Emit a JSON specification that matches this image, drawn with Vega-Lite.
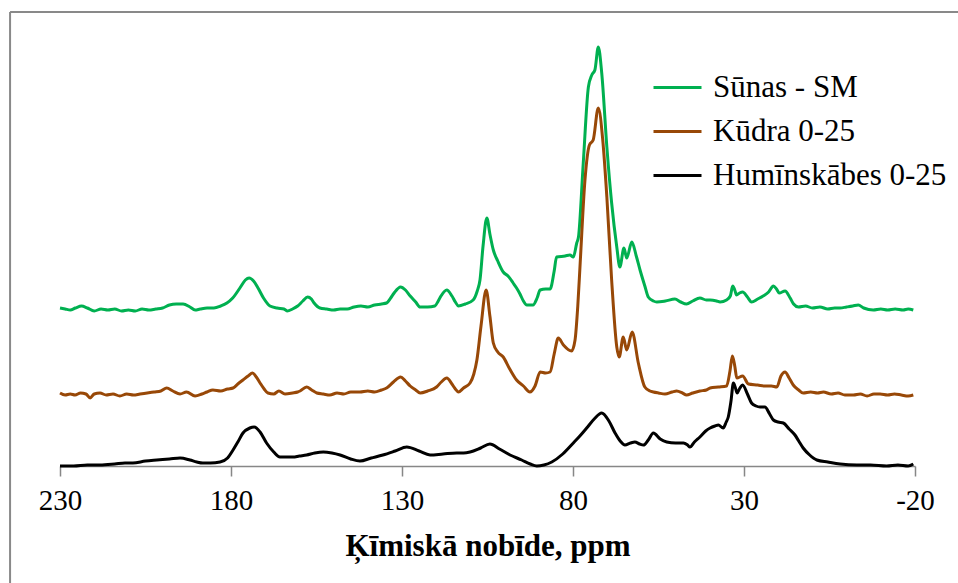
{
  "$schema": "https://vega.github.io/schema/vega-lite/v6.json",
  "width": 855,
  "height": 440,
  "autosize": {"type": "none"},
  "padding": {"left": 60, "top": 26, "right": 43, "bottom": 117},
  "background": "white",
  "config": {
    "view": {"stroke": null},
    "font": "Liberation Serif"
  },
  "layer": [
    {
      "data": {"values": [
        {"s":"Sūnas - SM","ppm":230,"v":158},{"s":"Sūnas - SM","ppm":228.5,"v":157},{"s":"Sūnas - SM","ppm":227,"v":156},{"s":"Sūnas - SM","ppm":225.5,"v":158},{"s":"Sūnas - SM","ppm":223.7,"v":160},{"s":"Sūnas - SM","ppm":222,"v":158},{"s":"Sūnas - SM","ppm":220,"v":155},{"s":"Sūnas - SM","ppm":218,"v":157},{"s":"Sūnas - SM","ppm":216,"v":156},{"s":"Sūnas - SM","ppm":214,"v":157},{"s":"Sūnas - SM","ppm":212,"v":155},{"s":"Sūnas - SM","ppm":210,"v":156},{"s":"Sūnas - SM","ppm":208,"v":155},{"s":"Sūnas - SM","ppm":206,"v":157},{"s":"Sūnas - SM","ppm":204,"v":156},{"s":"Sūnas - SM","ppm":202,"v":157},{"s":"Sūnas - SM","ppm":200,"v":158},{"s":"Sūnas - SM","ppm":198,"v":161},{"s":"Sūnas - SM","ppm":196,"v":162},{"s":"Sūnas - SM","ppm":194,"v":162},{"s":"Sūnas - SM","ppm":192,"v":159},{"s":"Sūnas - SM","ppm":190.5,"v":156},{"s":"Sūnas - SM","ppm":189,"v":157},{"s":"Sūnas - SM","ppm":187,"v":158},{"s":"Sūnas - SM","ppm":185,"v":158},{"s":"Sūnas - SM","ppm":183,"v":160},{"s":"Sūnas - SM","ppm":181.2,"v":163},{"s":"Sūnas - SM","ppm":179.5,"v":168},{"s":"Sūnas - SM","ppm":177.4,"v":178},{"s":"Sūnas - SM","ppm":175.8,"v":186},{"s":"Sūnas - SM","ppm":174.7,"v":188},{"s":"Sūnas - SM","ppm":173.4,"v":185},{"s":"Sūnas - SM","ppm":172.1,"v":178},{"s":"Sūnas - SM","ppm":170.5,"v":168},{"s":"Sūnas - SM","ppm":168.6,"v":160},{"s":"Sūnas - SM","ppm":166.5,"v":158},{"s":"Sūnas - SM","ppm":164.5,"v":157},{"s":"Sūnas - SM","ppm":163.6,"v":155},{"s":"Sūnas - SM","ppm":162,"v":157},{"s":"Sūnas - SM","ppm":160.5,"v":160},{"s":"Sūnas - SM","ppm":159,"v":165},{"s":"Sūnas - SM","ppm":157.6,"v":169},{"s":"Sūnas - SM","ppm":156.5,"v":167},{"s":"Sūnas - SM","ppm":155.7,"v":163},{"s":"Sūnas - SM","ppm":154,"v":158},{"s":"Sūnas - SM","ppm":152,"v":157},{"s":"Sūnas - SM","ppm":150,"v":156},{"s":"Sūnas - SM","ppm":148.1,"v":157},{"s":"Sūnas - SM","ppm":146,"v":157},{"s":"Sūnas - SM","ppm":144,"v":159},{"s":"Sūnas - SM","ppm":142,"v":160},{"s":"Sūnas - SM","ppm":140,"v":159},{"s":"Sūnas - SM","ppm":138,"v":161},{"s":"Sūnas - SM","ppm":136,"v":162},{"s":"Sūnas - SM","ppm":134.5,"v":163},{"s":"Sūnas - SM","ppm":133.3,"v":168},{"s":"Sūnas - SM","ppm":132.3,"v":173},{"s":"Sūnas - SM","ppm":130.4,"v":179},{"s":"Sūnas - SM","ppm":129,"v":176},{"s":"Sūnas - SM","ppm":127.6,"v":170},{"s":"Sūnas - SM","ppm":126,"v":164},{"s":"Sūnas - SM","ppm":124.7,"v":159},{"s":"Sūnas - SM","ppm":122.5,"v":159},{"s":"Sūnas - SM","ppm":120.4,"v":160},{"s":"Sūnas - SM","ppm":119.4,"v":165},{"s":"Sūnas - SM","ppm":118.6,"v":170},{"s":"Sūnas - SM","ppm":116.9,"v":176},{"s":"Sūnas - SM","ppm":115.4,"v":170},{"s":"Sūnas - SM","ppm":114.4,"v":164},{"s":"Sūnas - SM","ppm":113.5,"v":160},{"s":"Sūnas - SM","ppm":111.5,"v":162},{"s":"Sūnas - SM","ppm":109.2,"v":166},{"s":"Sūnas - SM","ppm":108,"v":175},{"s":"Sūnas - SM","ppm":107.2,"v":186},{"s":"Sūnas - SM","ppm":106.3,"v":220},{"s":"Sūnas - SM","ppm":105.2,"v":248},{"s":"Sūnas - SM","ppm":104.3,"v":232},{"s":"Sūnas - SM","ppm":103.3,"v":216},{"s":"Sūnas - SM","ppm":102,"v":205},{"s":"Sūnas - SM","ppm":100.4,"v":194},{"s":"Sūnas - SM","ppm":99,"v":190},{"s":"Sūnas - SM","ppm":97.5,"v":183},{"s":"Sūnas - SM","ppm":96.5,"v":178},{"s":"Sūnas - SM","ppm":95.5,"v":172},{"s":"Sūnas - SM","ppm":94.5,"v":165},{"s":"Sūnas - SM","ppm":93.5,"v":161},{"s":"Sūnas - SM","ppm":91.7,"v":161},{"s":"Sūnas - SM","ppm":90.5,"v":168},{"s":"Sūnas - SM","ppm":89.6,"v":176},{"s":"Sūnas - SM","ppm":88,"v":177},{"s":"Sūnas - SM","ppm":86.7,"v":177},{"s":"Sūnas - SM","ppm":85.5,"v":195},{"s":"Sūnas - SM","ppm":84.8,"v":209},{"s":"Sūnas - SM","ppm":82.3,"v":210},{"s":"Sūnas - SM","ppm":80.9,"v":211},{"s":"Sūnas - SM","ppm":79.9,"v":209},{"s":"Sūnas - SM","ppm":78.9,"v":223},{"s":"Sūnas - SM","ppm":78.4,"v":229},{"s":"Sūnas - SM","ppm":77,"v":303},{"s":"Sūnas - SM","ppm":75.5,"v":379},{"s":"Sūnas - SM","ppm":74.5,"v":391},{"s":"Sūnas - SM","ppm":73.6,"v":396},{"s":"Sūnas - SM","ppm":72.6,"v":419},{"s":"Sūnas - SM","ppm":71.6,"v":393},{"s":"Sūnas - SM","ppm":70.1,"v":319},{"s":"Sūnas - SM","ppm":68.7,"v":263},{"s":"Sūnas - SM","ppm":67.2,"v":219},{"s":"Sūnas - SM","ppm":66.3,"v":199},{"s":"Sūnas - SM","ppm":65.1,"v":218},{"s":"Sūnas - SM","ppm":64.3,"v":208},{"s":"Sūnas - SM","ppm":62.8,"v":224},{"s":"Sūnas - SM","ppm":61.5,"v":210},{"s":"Sūnas - SM","ppm":60.4,"v":196},{"s":"Sūnas - SM","ppm":59,"v":180},{"s":"Sūnas - SM","ppm":58,"v":169},{"s":"Sūnas - SM","ppm":56.5,"v":165},{"s":"Sūnas - SM","ppm":55.5,"v":164},{"s":"Sūnas - SM","ppm":53,"v":165},{"s":"Sūnas - SM","ppm":50.2,"v":167},{"s":"Sūnas - SM","ppm":48.5,"v":164},{"s":"Sūnas - SM","ppm":46.8,"v":162},{"s":"Sūnas - SM","ppm":45,"v":165},{"s":"Sūnas - SM","ppm":42.9,"v":168},{"s":"Sūnas - SM","ppm":41,"v":166},{"s":"Sūnas - SM","ppm":39.9,"v":166},{"s":"Sūnas - SM","ppm":38,"v":165},{"s":"Sūnas - SM","ppm":37,"v":164},{"s":"Sūnas - SM","ppm":35.1,"v":166},{"s":"Sūnas - SM","ppm":34,"v":170},{"s":"Sūnas - SM","ppm":33.3,"v":180},{"s":"Sūnas - SM","ppm":32.7,"v":176},{"s":"Sūnas - SM","ppm":32.2,"v":171},{"s":"Sūnas - SM","ppm":31.3,"v":173},{"s":"Sūnas - SM","ppm":30.4,"v":174},{"s":"Sūnas - SM","ppm":29,"v":169},{"s":"Sūnas - SM","ppm":27.8,"v":164},{"s":"Sūnas - SM","ppm":26,"v":167},{"s":"Sūnas - SM","ppm":24.4,"v":170},{"s":"Sūnas - SM","ppm":22.8,"v":174},{"s":"Sūnas - SM","ppm":21.4,"v":180},{"s":"Sūnas - SM","ppm":20.5,"v":177},{"s":"Sūnas - SM","ppm":19.7,"v":173},{"s":"Sūnas - SM","ppm":18,"v":175},{"s":"Sūnas - SM","ppm":16.5,"v":168},{"s":"Sūnas - SM","ppm":15.5,"v":162},{"s":"Sūnas - SM","ppm":14.1,"v":159},{"s":"Sūnas - SM","ppm":12,"v":160},{"s":"Sūnas - SM","ppm":10,"v":158},{"s":"Sūnas - SM","ppm":7.8,"v":159},{"s":"Sūnas - SM","ppm":5.5,"v":157},{"s":"Sūnas - SM","ppm":3.5,"v":158},{"s":"Sūnas - SM","ppm":1.9,"v":158},{"s":"Sūnas - SM","ppm":0,"v":159},{"s":"Sūnas - SM","ppm":-1.8,"v":160},{"s":"Sūnas - SM","ppm":-3.4,"v":161},{"s":"Sūnas - SM","ppm":-5,"v":158},{"s":"Sūnas - SM","ppm":-7.8,"v":156},{"s":"Sūnas - SM","ppm":-10,"v":157},{"s":"Sūnas - SM","ppm":-12,"v":156},{"s":"Sūnas - SM","ppm":-14.2,"v":157},{"s":"Sūnas - SM","ppm":-16.5,"v":156},{"s":"Sūnas - SM","ppm":-18,"v":157},{"s":"Sūnas - SM","ppm":-19.5,"v":156},
        {"s":"Kūdra 0-25","ppm":230,"v":73},{"s":"Kūdra 0-25","ppm":228.5,"v":71},{"s":"Kūdra 0-25","ppm":227,"v":72},{"s":"Kūdra 0-25","ppm":225.6,"v":71},{"s":"Kūdra 0-25","ppm":224,"v":73},{"s":"Kūdra 0-25","ppm":222.4,"v":72},{"s":"Kūdra 0-25","ppm":221.2,"v":68},{"s":"Kūdra 0-25","ppm":220,"v":72},{"s":"Kūdra 0-25","ppm":218.3,"v":73},{"s":"Kūdra 0-25","ppm":216.5,"v":71},{"s":"Kūdra 0-25","ppm":214.5,"v":72},{"s":"Kūdra 0-25","ppm":212.5,"v":70},{"s":"Kūdra 0-25","ppm":210.5,"v":72},{"s":"Kūdra 0-25","ppm":208.5,"v":71},{"s":"Kūdra 0-25","ppm":206.6,"v":72},{"s":"Kūdra 0-25","ppm":204.5,"v":73},{"s":"Kūdra 0-25","ppm":202.5,"v":74},{"s":"Kūdra 0-25","ppm":200.5,"v":75},{"s":"Kūdra 0-25","ppm":198.8,"v":78},{"s":"Kūdra 0-25","ppm":197,"v":75},{"s":"Kūdra 0-25","ppm":194.9,"v":72},{"s":"Kūdra 0-25","ppm":193,"v":74},{"s":"Kūdra 0-25","ppm":190.5,"v":70},{"s":"Kūdra 0-25","ppm":188.5,"v":72},{"s":"Kūdra 0-25","ppm":187,"v":74},{"s":"Kūdra 0-25","ppm":185.3,"v":76},{"s":"Kūdra 0-25","ppm":183,"v":75},{"s":"Kūdra 0-25","ppm":181,"v":77},{"s":"Kūdra 0-25","ppm":179.4,"v":78},{"s":"Kūdra 0-25","ppm":178,"v":82},{"s":"Kūdra 0-25","ppm":176.5,"v":86},{"s":"Kūdra 0-25","ppm":175,"v":90},{"s":"Kūdra 0-25","ppm":173.7,"v":93},{"s":"Kūdra 0-25","ppm":172.6,"v":89},{"s":"Kūdra 0-25","ppm":171.5,"v":83},{"s":"Kūdra 0-25","ppm":170.3,"v":77},{"s":"Kūdra 0-25","ppm":169.2,"v":73},{"s":"Kūdra 0-25","ppm":167.5,"v":72},{"s":"Kūdra 0-25","ppm":166,"v":75},{"s":"Kūdra 0-25","ppm":164.2,"v":72},{"s":"Kūdra 0-25","ppm":162,"v":73},{"s":"Kūdra 0-25","ppm":160.5,"v":74},{"s":"Kūdra 0-25","ppm":159.8,"v":75},{"s":"Kūdra 0-25","ppm":157.9,"v":79},{"s":"Kūdra 0-25","ppm":156.4,"v":76},{"s":"Kūdra 0-25","ppm":154.9,"v":73},{"s":"Kūdra 0-25","ppm":153,"v":72},{"s":"Kūdra 0-25","ppm":151.1,"v":71},{"s":"Kūdra 0-25","ppm":149,"v":73},{"s":"Kūdra 0-25","ppm":147,"v":72},{"s":"Kūdra 0-25","ppm":145,"v":74},{"s":"Kūdra 0-25","ppm":142.3,"v":74},{"s":"Kūdra 0-25","ppm":140,"v":75},{"s":"Kūdra 0-25","ppm":138,"v":74},{"s":"Kūdra 0-25","ppm":136,"v":76},{"s":"Kūdra 0-25","ppm":134.5,"v":78},{"s":"Kūdra 0-25","ppm":132.5,"v":84},{"s":"Kūdra 0-25","ppm":130.4,"v":89},{"s":"Kūdra 0-25","ppm":129,"v":85},{"s":"Kūdra 0-25","ppm":127.6,"v":80},{"s":"Kūdra 0-25","ppm":126,"v":76},{"s":"Kūdra 0-25","ppm":124.7,"v":73},{"s":"Kūdra 0-25","ppm":122.5,"v":75},{"s":"Kūdra 0-25","ppm":119.9,"v":79},{"s":"Kūdra 0-25","ppm":118.5,"v":84},{"s":"Kūdra 0-25","ppm":116.9,"v":88},{"s":"Kūdra 0-25","ppm":115.4,"v":82},{"s":"Kūdra 0-25","ppm":114.4,"v":77},{"s":"Kūdra 0-25","ppm":113.5,"v":74},{"s":"Kūdra 0-25","ppm":112,"v":78},{"s":"Kūdra 0-25","ppm":110.1,"v":83},{"s":"Kūdra 0-25","ppm":109,"v":92},{"s":"Kūdra 0-25","ppm":108.1,"v":106},{"s":"Kūdra 0-25","ppm":106.9,"v":140},{"s":"Kūdra 0-25","ppm":105.4,"v":176},{"s":"Kūdra 0-25","ppm":104.3,"v":150},{"s":"Kūdra 0-25","ppm":103.3,"v":123},{"s":"Kūdra 0-25","ppm":102,"v":114},{"s":"Kūdra 0-25","ppm":100.4,"v":109},{"s":"Kūdra 0-25","ppm":98.5,"v":97},{"s":"Kūdra 0-25","ppm":96.5,"v":86},{"s":"Kūdra 0-25","ppm":94.5,"v":80},{"s":"Kūdra 0-25","ppm":92.6,"v":74},{"s":"Kūdra 0-25","ppm":91.1,"v":80},{"s":"Kūdra 0-25","ppm":89.6,"v":94},{"s":"Kūdra 0-25","ppm":88,"v":93},{"s":"Kūdra 0-25","ppm":86.7,"v":94},{"s":"Kūdra 0-25","ppm":85.5,"v":112},{"s":"Kūdra 0-25","ppm":84.3,"v":128},{"s":"Kūdra 0-25","ppm":82.8,"v":121},{"s":"Kūdra 0-25","ppm":80.4,"v":115},{"s":"Kūdra 0-25","ppm":79.4,"v":126},{"s":"Kūdra 0-25","ppm":78.6,"v":160},{"s":"Kūdra 0-25","ppm":77.9,"v":203},{"s":"Kūdra 0-25","ppm":76.5,"v":286},{"s":"Kūdra 0-25","ppm":75.2,"v":321},{"s":"Kūdra 0-25","ppm":74.1,"v":326},{"s":"Kūdra 0-25","ppm":72.6,"v":358},{"s":"Kūdra 0-25","ppm":71.3,"v":326},{"s":"Kūdra 0-25","ppm":70.1,"v":269},{"s":"Kūdra 0-25","ppm":68.7,"v":186},{"s":"Kūdra 0-25","ppm":67.2,"v":119},{"s":"Kūdra 0-25","ppm":66.5,"v":109},{"s":"Kūdra 0-25","ppm":65.3,"v":129},{"s":"Kūdra 0-25","ppm":64.3,"v":116},{"s":"Kūdra 0-25","ppm":62.7,"v":134},{"s":"Kūdra 0-25","ppm":60.9,"v":103},{"s":"Kūdra 0-25","ppm":59,"v":79},{"s":"Kūdra 0-25","ppm":57.5,"v":75},{"s":"Kūdra 0-25","ppm":56.5,"v":74},{"s":"Kūdra 0-25","ppm":55,"v":73},{"s":"Kūdra 0-25","ppm":53.1,"v":72},{"s":"Kūdra 0-25","ppm":51,"v":74},{"s":"Kūdra 0-25","ppm":49.7,"v":75},{"s":"Kūdra 0-25","ppm":48,"v":73},{"s":"Kūdra 0-25","ppm":46.8,"v":71},{"s":"Kūdra 0-25","ppm":45,"v":73},{"s":"Kūdra 0-25","ppm":42.9,"v":75},{"s":"Kūdra 0-25","ppm":41,"v":76},{"s":"Kūdra 0-25","ppm":39.9,"v":78},{"s":"Kūdra 0-25","ppm":37.5,"v":79},{"s":"Kūdra 0-25","ppm":35.1,"v":80},{"s":"Kūdra 0-25","ppm":34.1,"v":95},{"s":"Kūdra 0-25","ppm":33.4,"v":110},{"s":"Kūdra 0-25","ppm":32.7,"v":100},{"s":"Kūdra 0-25","ppm":32.1,"v":88},{"s":"Kūdra 0-25","ppm":30.4,"v":90},{"s":"Kūdra 0-25","ppm":28.7,"v":82},{"s":"Kūdra 0-25","ppm":26,"v":81},{"s":"Kūdra 0-25","ppm":23.9,"v":80},{"s":"Kūdra 0-25","ppm":22,"v":80},{"s":"Kūdra 0-25","ppm":20.4,"v":79},{"s":"Kūdra 0-25","ppm":19.2,"v":90},{"s":"Kūdra 0-25","ppm":18,"v":94},{"s":"Kūdra 0-25","ppm":16.8,"v":88},{"s":"Kūdra 0-25","ppm":15.6,"v":81},{"s":"Kūdra 0-25","ppm":14,"v":76},{"s":"Kūdra 0-25","ppm":12.7,"v":73},{"s":"Kūdra 0-25","ppm":10.5,"v":74},{"s":"Kūdra 0-25","ppm":8.5,"v":73},{"s":"Kūdra 0-25","ppm":6.8,"v":74},{"s":"Kūdra 0-25","ppm":4.5,"v":72},{"s":"Kūdra 0-25","ppm":2.5,"v":73},{"s":"Kūdra 0-25","ppm":0.5,"v":71},{"s":"Kūdra 0-25","ppm":-2,"v":71},{"s":"Kūdra 0-25","ppm":-4,"v":72},{"s":"Kūdra 0-25","ppm":-6,"v":70},{"s":"Kūdra 0-25","ppm":-8,"v":72},{"s":"Kūdra 0-25","ppm":-9.8,"v":72},{"s":"Kūdra 0-25","ppm":-12,"v":71},{"s":"Kūdra 0-25","ppm":-14,"v":72},{"s":"Kūdra 0-25","ppm":-16,"v":71},{"s":"Kūdra 0-25","ppm":-18,"v":70},{"s":"Kūdra 0-25","ppm":-19.5,"v":71},
        {"s":"Humīnskābes 0-25","ppm":230,"v":0},{"s":"Humīnskābes 0-25","ppm":226,"v":0},{"s":"Humīnskābes 0-25","ppm":222,"v":1},{"s":"Humīnskābes 0-25","ppm":218.3,"v":1},{"s":"Humīnskābes 0-25","ppm":214,"v":2},{"s":"Humīnskābes 0-25","ppm":211,"v":3},{"s":"Humīnskābes 0-25","ppm":208.7,"v":3},{"s":"Humīnskābes 0-25","ppm":205,"v":5},{"s":"Humīnskābes 0-25","ppm":201.7,"v":6},{"s":"Humīnskābes 0-25","ppm":198,"v":7},{"s":"Humīnskābes 0-25","ppm":194.9,"v":8},{"s":"Humīnskābes 0-25","ppm":192,"v":6},{"s":"Humīnskābes 0-25","ppm":190,"v":4},{"s":"Humīnskābes 0-25","ppm":188.2,"v":3},{"s":"Humīnskābes 0-25","ppm":186,"v":3},{"s":"Humīnskābes 0-25","ppm":183.2,"v":4},{"s":"Humīnskābes 0-25","ppm":181,"v":8},{"s":"Humīnskābes 0-25","ppm":179.4,"v":16},{"s":"Humīnskābes 0-25","ppm":178,"v":24},{"s":"Humīnskābes 0-25","ppm":176.5,"v":33},{"s":"Humīnskābes 0-25","ppm":174.5,"v":38},{"s":"Humīnskābes 0-25","ppm":173.2,"v":39},{"s":"Humīnskābes 0-25","ppm":171.5,"v":34},{"s":"Humīnskābes 0-25","ppm":169.6,"v":23},{"s":"Humīnskābes 0-25","ppm":167.5,"v":14},{"s":"Humīnskābes 0-25","ppm":165.7,"v":9},{"s":"Humīnskābes 0-25","ppm":163.5,"v":9},{"s":"Humīnskābes 0-25","ppm":161.9,"v":9},{"s":"Humīnskābes 0-25","ppm":160,"v":10},{"s":"Humīnskābes 0-25","ppm":157.9,"v":11},{"s":"Humīnskābes 0-25","ppm":155.5,"v":13},{"s":"Humīnskābes 0-25","ppm":153,"v":14},{"s":"Humīnskābes 0-25","ppm":150.5,"v":13},{"s":"Humīnskābes 0-25","ppm":148.1,"v":11},{"s":"Humīnskābes 0-25","ppm":145,"v":7},{"s":"Humīnskābes 0-25","ppm":142.3,"v":5},{"s":"Humīnskābes 0-25","ppm":139,"v":8},{"s":"Humīnskābes 0-25","ppm":135.6,"v":11},{"s":"Humīnskābes 0-25","ppm":132,"v":15},{"s":"Humīnskābes 0-25","ppm":128.6,"v":19},{"s":"Humīnskābes 0-25","ppm":125,"v":15},{"s":"Humīnskābes 0-25","ppm":121.8,"v":11},{"s":"Humīnskābes 0-25","ppm":118,"v":12},{"s":"Humīnskābes 0-25","ppm":114,"v":13},{"s":"Humīnskābes 0-25","ppm":112,"v":13},{"s":"Humīnskābes 0-25","ppm":110.1,"v":14},{"s":"Humīnskābes 0-25","ppm":107,"v":18},{"s":"Humīnskābes 0-25","ppm":104.3,"v":22},{"s":"Humīnskābes 0-25","ppm":101.5,"v":17},{"s":"Humīnskābes 0-25","ppm":98.4,"v":11},{"s":"Humīnskābes 0-25","ppm":95,"v":6},{"s":"Humīnskābes 0-25","ppm":92.5,"v":2},{"s":"Humīnskābes 0-25","ppm":90.6,"v":0},{"s":"Humīnskābes 0-25","ppm":88.5,"v":1},{"s":"Humīnskābes 0-25","ppm":86.2,"v":4},{"s":"Humīnskābes 0-25","ppm":83,"v":12},{"s":"Humīnskābes 0-25","ppm":79.9,"v":23},{"s":"Humīnskābes 0-25","ppm":78,"v":30},{"s":"Humīnskābes 0-25","ppm":76,"v":38},{"s":"Humīnskābes 0-25","ppm":73.8,"v":47},{"s":"Humīnskābes 0-25","ppm":71.6,"v":53},{"s":"Humīnskābes 0-25","ppm":69.5,"v":45},{"s":"Humīnskābes 0-25","ppm":67.7,"v":33},{"s":"Humīnskābes 0-25","ppm":66.2,"v":25},{"s":"Humīnskābes 0-25","ppm":64.8,"v":21},{"s":"Humīnskābes 0-25","ppm":63.2,"v":23},{"s":"Humīnskābes 0-25","ppm":61.9,"v":24},{"s":"Humīnskābes 0-25","ppm":60.5,"v":22},{"s":"Humīnskābes 0-25","ppm":59.4,"v":21},{"s":"Humīnskābes 0-25","ppm":58,"v":26},{"s":"Humīnskābes 0-25","ppm":56.5,"v":33},{"s":"Humīnskābes 0-25","ppm":54.5,"v":27},{"s":"Humīnskābes 0-25","ppm":52.6,"v":24},{"s":"Humīnskābes 0-25","ppm":50,"v":23},{"s":"Humīnskābes 0-25","ppm":47.7,"v":23},{"s":"Humīnskābes 0-25","ppm":46.5,"v":21},{"s":"Humīnskābes 0-25","ppm":45.8,"v":19},{"s":"Humīnskābes 0-25","ppm":44.5,"v":24},{"s":"Humīnskābes 0-25","ppm":42.9,"v":29},{"s":"Humīnskābes 0-25","ppm":41.2,"v":35},{"s":"Humīnskābes 0-25","ppm":39.9,"v":38},{"s":"Humīnskābes 0-25","ppm":38.5,"v":40},{"s":"Humīnskābes 0-25","ppm":37.5,"v":41},{"s":"Humīnskābes 0-25","ppm":36.1,"v":38},{"s":"Humīnskābes 0-25","ppm":35.2,"v":44},{"s":"Humīnskābes 0-25","ppm":34.6,"v":49},{"s":"Humīnskābes 0-25","ppm":33.8,"v":65},{"s":"Humīnskābes 0-25","ppm":33.1,"v":83},{"s":"Humīnskābes 0-25","ppm":32.5,"v":78},{"s":"Humīnskābes 0-25","ppm":32,"v":73},{"s":"Humīnskābes 0-25","ppm":31.2,"v":78},{"s":"Humīnskābes 0-25","ppm":30.4,"v":81},{"s":"Humīnskābes 0-25","ppm":29,"v":72},{"s":"Humīnskābes 0-25","ppm":27.8,"v":63},{"s":"Humīnskābes 0-25","ppm":26.5,"v":60},{"s":"Humīnskābes 0-25","ppm":25.3,"v":59},{"s":"Humīnskābes 0-25","ppm":23.9,"v":59},{"s":"Humīnskābes 0-25","ppm":22.5,"v":52},{"s":"Humīnskābes 0-25","ppm":21.4,"v":46},{"s":"Humīnskābes 0-25","ppm":20,"v":44},{"s":"Humīnskābes 0-25","ppm":18.5,"v":43},{"s":"Humīnskābes 0-25","ppm":16.8,"v":37},{"s":"Humīnskābes 0-25","ppm":15.1,"v":31},{"s":"Humīnskābes 0-25","ppm":14,"v":25},{"s":"Humīnskābes 0-25","ppm":12.7,"v":18},{"s":"Humīnskābes 0-25","ppm":10.8,"v":11},{"s":"Humīnskābes 0-25","ppm":8.7,"v":6},{"s":"Humīnskābes 0-25","ppm":5.5,"v":4},{"s":"Humīnskābes 0-25","ppm":1.9,"v":2},{"s":"Humīnskābes 0-25","ppm":-3,"v":1},{"s":"Humīnskābes 0-25","ppm":-7,"v":1},{"s":"Humīnskābes 0-25","ppm":-11.7,"v":0},{"s":"Humīnskābes 0-25","ppm":-15,"v":1},{"s":"Humīnskābes 0-25","ppm":-18,"v":0},{"s":"Humīnskābes 0-25","ppm":-19.5,"v":2}
      ]},
      "mark": {"type": "line", "strokeWidth": 3, "strokeJoin": "round", "interpolate": "monotone"},
      "encoding": {
        "x": {
          "field": "ppm", "type": "quantitative",
          "scale": {"domain": [-20, 230], "reverse": true, "nice": false, "zero": false},
          "axis": {
            "values": [230, 180, 130, 80, 30, -20],
            "labelExpr": "'' + datum.value",
            "grid": false,
            "title": "Ķīmiskā nobīde, ppm",
            "titleFont": "Liberation Serif", "titleFontSize": 31, "titleFontWeight": "bold", "titleColor": "black",
            "titlePadding": 16,
            "labelFont": "Liberation Serif", "labelFontSize": 29, "labelColor": "black",
            "labelPadding": 10, "labelFlush": false,
            "domainColor": "#878787", "domainWidth": 1.5,
            "tickColor": "#878787", "tickWidth": 1.5, "tickSize": 10
          }
        },
        "y": {
          "field": "v", "type": "quantitative",
          "scale": {"domain": [0, 440], "nice": false, "zero": false},
          "axis": null
        },
        "color": {
          "field": "s", "type": "nominal",
          "scale": {"domain": ["Sūnas - SM", "Kūdra 0-25", "Humīnskābes 0-25"], "range": ["#00B050", "#984807", "#000000"]},
          "legend": {
            "title": null, "orient": "none", "legendX": 592, "legendY": 36,
            "symbolType": "stroke", "symbolSize": 2304, "symbolStrokeWidth": 3,
            "labelFont": "Liberation Serif", "labelFontSize": 31, "labelColor": "black",
            "labelOffset": 10, "rowPadding": 3, "padding": 0, "labelLimit": 400
          }
        }
      }
    },
    {
      "data": {"values": [{}]},
      "mark": {"type": "rule", "color": "#898989", "strokeWidth": 2, "clip": false},
      "encoding": {
        "x": {"datum": 244.6, "type": "quantitative"},
        "x2": {"datum": -60},
        "y": {"datum": 454, "type": "quantitative"}
      }
    },
    {
      "data": {"values": [{}]},
      "mark": {"type": "rule", "color": "#898989", "strokeWidth": 2, "clip": false},
      "encoding": {
        "x": {"datum": 244.6, "type": "quantitative"},
        "y": {"datum": 454, "type": "quantitative"},
        "y2": {"datum": -300}
      }
    }
  ]
}
